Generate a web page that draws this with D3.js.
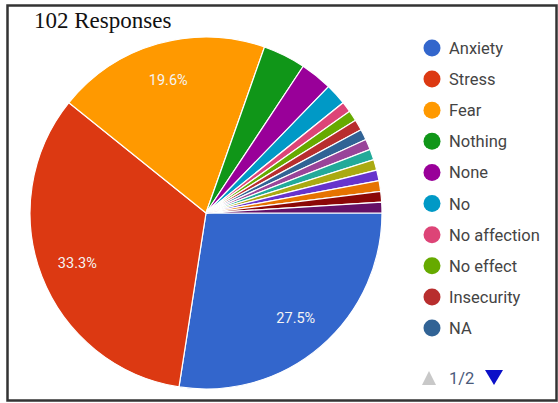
<!DOCTYPE html>
<html>
<head>
<meta charset="utf-8">
<script src="https://cdn.jsdelivr.net/npm/d3@7"></script>
<style>
  html, body { margin: 0; padding: 0; background: #fff; }
  svg { display: block; }
</style>
</head>
<body>
<svg id="chart" width="558" height="403"></svg>
<script>
// Survey answers (102 responses); only the first ten appear on legend page 1
const categories = ["Anxiety", "Stress", "Fear", "Nothing", "None", "No",
  "No affection", "No effect", "Insecurity", "NA",
  "Sadness", "Anger", "Loneliness", "Confusion", "Worry", "Depression", "Frustration"];
const counts = [28, 34, 20, 4, 3, 2, 1, 1, 1, 1, 1, 1, 1, 1, 1, 1, 1];
const colors = ["#3366cc", "#dc3912", "#ff9900", "#109618", "#990099", "#0099c6",
  "#dd4477", "#66aa00", "#b82e2e", "#316395", "#994499", "#22aa99",
  "#aaaa11", "#6633cc", "#e67300", "#8b0707", "#651067"];
const legendPage = categories.slice(0, 10);
const pagerLabel = "1/2";
const titleText = "102 Responses";

const svg = d3.select("#chart");
const total = d3.sum(counts);
const data = categories.map((c, i) => ({ name: c, value: counts[i] }));

// Frame
svg.append("rect")
  .attr("x", 7.5).attr("y", 5.5).attr("width", 549).attr("height", 395)
  .attr("fill", "none").attr("stroke", "#333").attr("stroke-width", 2.5);

svg.append("text")
  .attr("x", 34).attr("y", 28)
  .attr("font-family", "'Liberation Serif', 'Times New Roman', serif")
  .attr("font-size", 23).attr("fill", "#111")
  .text(titleText);

// Pie, starting at 3 o'clock and running clockwise
const cx = 206, cy = 213, r = 176;
const color = d3.scaleOrdinal().domain(categories).range(colors);
const pie = d3.pie().value(d => d.value).sort(null)
  .startAngle(Math.PI / 2).endAngle(Math.PI / 2 + 2 * Math.PI);
const arc = d3.arc().innerRadius(0).outerRadius(r);
const labelArc = d3.arc().innerRadius(138).outerRadius(138);

const g = svg.append("g").attr("transform", `translate(${cx},${cy})`);
const arcs = pie(data);
g.selectAll("path").data(arcs).join("path")
  .attr("d", arc)
  .attr("fill", d => color(d.data.name))
  .attr("stroke", "#fff").attr("stroke-width", 1.2);

const fmt = v => (v / total * 100).toFixed(1) + "%";
g.selectAll("text.pct").data(arcs.filter(d => d.data.value / total > 0.1)).join("text")
  .attr("class", "pct")
  .attr("transform", d => `translate(${labelArc.centroid(d)})`)
  .attr("text-anchor", "middle").attr("dy", "0.35em")
  .attr("font-family", "Roboto, Arial, sans-serif").attr("font-size", 14.5)
  .attr("fill", "#f4f4f4")
  .text(d => fmt(d.data.value));

// Legend page
const ly = d3.scalePoint().domain(legendPage).range([48, 328]);
const lg = svg.append("g");
const rows = lg.selectAll("g").data(legendPage).join("g")
  .attr("transform", d => `translate(432,${ly(d)})`);
rows.append("circle").attr("r", 8.5).attr("fill", d => color(d));
rows.append("text")
  .attr("x", 17).attr("dy", "0.36em")
  .attr("font-family", "Roboto, Arial, sans-serif").attr("font-size", 16.5)
  .attr("fill", "#444")
  .text(d => d);

// Pager
const py = 378;
svg.append("path").attr("d", `M${422},${py + 7} L${436},${py + 7} L${429},${py - 7} Z`).attr("fill", "#c8c8c8");
svg.append("text").attr("x", 449).attr("y", py).attr("dy", "0.36em")
  .attr("font-family", "Roboto, Arial, sans-serif").attr("font-size", 16.5)
  .attr("fill", "#4a5a7a").text(pagerLabel);
svg.append("path").attr("d", `M${485},${py - 8} L${503},${py - 8} L${494},${py + 7} Z`).attr("fill", "#0b10c8");
</script>
</body>
</html>
